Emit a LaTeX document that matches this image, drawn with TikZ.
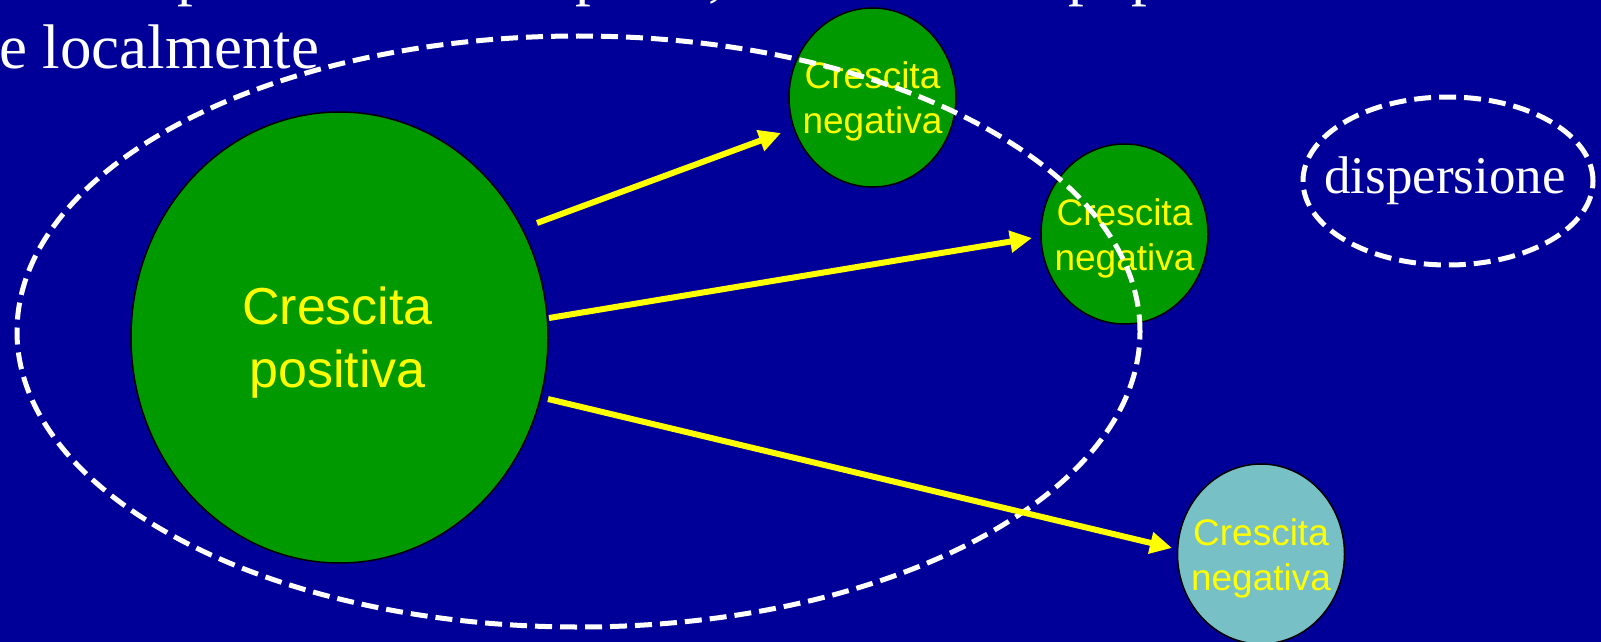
\documentclass[tikz,border=0pt]{standalone}
\usepackage{fontspec}
\setmainfont{Liberation Serif}
\newfontfamily\arialf{Liberation Sans}
\usetikzlibrary{arrows.meta,shapes.geometric}
\definecolor{bgblue}{RGB}{0,0,153}
\definecolor{grn}{RGB}{0,153,0}
\definecolor{lblue}{RGB}{119,192,197}
\definecolor{ylw}{RGB}{255,255,0}
\begin{document}
\begin{tikzpicture}[x=1pt,y=-1pt,
  blob/.style={ellipse, draw=black, line width=1.5pt, inner sep=0pt, fill=grn},
  smalltxt/.style={text=ylw, align=center, inner sep=0pt, font=\arialf\fontsize{37}{45}\selectfont},
  bigtxt/.style={text=ylw, align=center, inner sep=0pt, font=\arialf\fontsize{52}{63}\selectfont},
  ttl/.style={text=white, inner sep=0pt, font=\fontsize{63}{74}\selectfont, anchor=base west},
  dashring/.style={ellipse, draw=white, line width=5pt, dash pattern=on 17pt off 8pt, inner sep=0pt},
  arr/.style={draw=ylw, line width=6pt, -{Triangle[length=22pt,width=21pt]}}
]
\useasboundingbox (0,0) rectangle (1601,642);
\fill[bgblue] (0,0) rectangle (1601,642);

% partially visible title lines
\node[ttl] (p1) at (177,-6) {p};
\node[ttl] (p2) at (575,-6) {p};
\node[ttl] (cm) at (708,-5.5) {,};
\node[ttl] (p3) at (1068,-6) {p};
\node[ttl] (p4) at (1131,-6) {p};
\node[ttl] (loc) at (-1,69) {e localmente};

% ellipses
\node[blob, minimum width=417pt, minimum height=451pt] (big) at (339.5,337.5) {};
\node[bigtxt] (bigt) at ([shift={(-2,5)}]big.center) {Crescita\\positiva};
\node[blob, minimum width=167pt, minimum height=179pt] (n1) at (872.5,97.5) {};
\node[smalltxt] (n1t) at ([shift={(0,4)}]n1.center) {Crescita\\negativa};
\node[blob, minimum width=167pt, minimum height=180pt] (n2) at (1124.5,234) {};
\node[smalltxt] (n2t) at ([shift={(0,4)}]n2.center) {Crescita\\negativa};
\node[blob, fill=lblue, minimum width=167pt, minimum height=180pt] (n3) at (1261,554) {};
\node[smalltxt] (n3t) at ([shift={(0,4)}]n3.center) {Crescita\\negativa};

% dashed rings
\node[dashring, minimum width=1123pt, minimum height=591pt] (ring) at (578.5,331.5) {};
\node[dashring, minimum width=290pt, minimum height=168pt] (disp) at (1448,181) {};
\node[text=white, inner sep=0pt, font=\fontsize{53}{60}\selectfont] (dispt) at ([shift={(-3,0)}]disp.center) {dispersione};

% arrows
\draw[arr] ([shift={(197.5,-114.5)}]big.center) -- ([shift={(-91.5,35.5)}]n1.center);
\draw[arr] ([shift={(209.5,-19.5)}]big.center) -- ([shift={(-92.5,4)}]n2.center);
\draw[arr] ([shift={(208.5,61.5)}]big.center) -- ([shift={(-89,-6)}]n3.center);
\end{tikzpicture}
\end{document}
